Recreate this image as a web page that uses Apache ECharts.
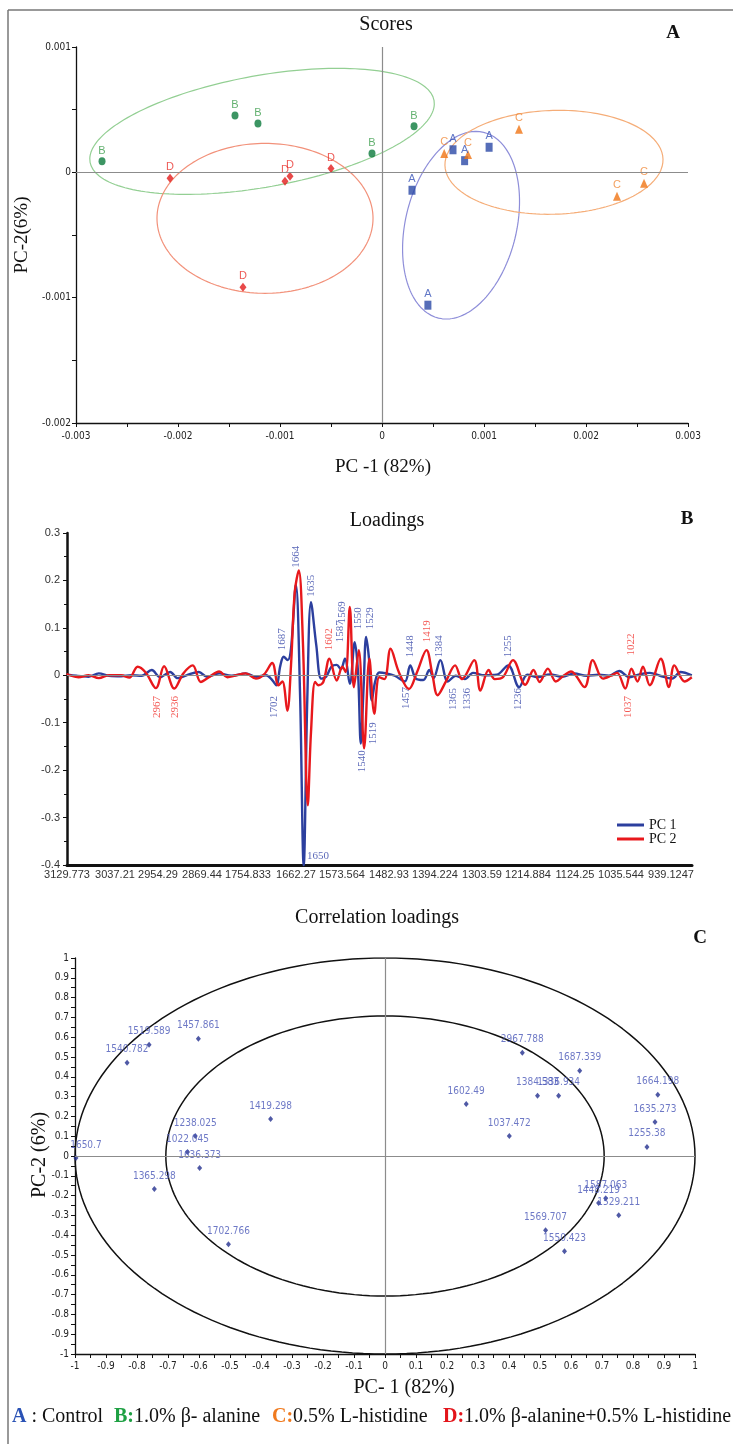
<!DOCTYPE html>
<html><head><meta charset="utf-8">
<script src="https://cdn.jsdelivr.net/npm/echarts/dist/echarts.min.js"></script>
<style>html,body{margin:0;padding:0;background:#fff}#c{width:739px;height:1444px}</style>
</head><body><div id="c"></div>
<script>
// ---------- Panel A: Scores (PC-1 vs PC-2) ----------
const scoresCtrl = [[6.96e-4,1.80e-4],[8.10e-4,0.93e-4],[10.50e-4,2.00e-4],[2.94e-4,-1.43e-4],[4.50e-4,-10.60e-4]];
const scoresAla  = [[-27.45e-4,0.88e-4],[-14.41e-4,4.54e-4],[-12.16e-4,3.90e-4],[-0.98e-4,1.51e-4],[3.14e-4,3.67e-4]];
const scoresHis  = [[6.10e-4,1.51e-4],[8.43e-4,1.43e-4],[13.43e-4,3.43e-4],[23.04e-4,-1.91e-4],[25.69e-4,-0.88e-4]];
const scoresMix  = [[-20.78e-4,-0.48e-4],[-9.51e-4,-0.72e-4],[-9.02e-4,-0.32e-4],[-5.00e-4,0.30e-4],[-13.63e-4,-9.16e-4]];
// ellipses: [cx, cy, ux, uy, vx, vy] (centre, semi-axis vectors, data units)
const ellAla  = [-11.76e-4, 3.27e-4, 16.86e-4, 2.47e-4, 0.98e-4, -4.38e-4];
const ellMix  = [-11.47e-4, -3.67e-4, 10.59e-4, 0, 0, 5.98e-4];
const ellCtrl = [7.75e-4, -4.22e-4, 2.21e-4, 7.41e-4, 5.29e-4, -1.04e-4];
const ellHis  = [16.86e-4, 0.80e-4, 10.69e-4, 0.24e-4, 0.10e-4, -4.14e-4];

// ---------- Panel B: Loadings ----------
const tickLabelsB = ['3129.773','3037.21','2954.29','2869.44','1754.833','1662.27','1573.564','1482.93','1394.224','1303.59','1214.884','1124.25','1035.544','939.1247'];
const tickIdxB = [0,48,91,135,181,229,275,322,368,415,461,508,554,604];
const pc1 = [[0,0.002],[9.3,-0.001],[21.6,-0.003],[31.8,0.004],[42,-0.001],[54.2,-0.002],[64.4,0],[74.6,-0.001],[84.8,0.011],[93,-0.004],[103.2,0.007],[110.6,-0.006],[119.5,0],[131.8,0.007],[140,-0.003],[152.2,0.004],[164.4,-0.001],[178.7,0.004],[189,-0.003],[199.1,0],[205.2,-0.01],[209.3,-0.021],[213.4,0.021],[216.7,0.039],[220.8,0.032],[224,0.056],[228.9,0.191],[233,-0.035],[236.7,-0.401],[240.3,-0.05],[244,0.154],[249.3,0.063],[254.2,-0.007],[259.1,-0.003],[264.4,0.018],[269.7,0.022],[273.8,0.013],[277.9,0.035],[282.8,-0.018],[287.7,0.07],[291,0.007],[293.8,-0.144],[296.7,-0.02],[299.1,0.081],[302,0.035],[304.8,-0.053],[308.1,-0.014],[312.2,0.006],[319.5,0.004],[327.7,-0.001],[337.9,-0.013],[343.2,0.021],[348.9,-0.007],[356.3,-0.01],[362.4,0.011],[366.5,-0.006],[373.4,0.032],[380.8,-0.013],[388.9,-0.001],[397.9,-0.008],[406,0.005],[417.5,0],[429.7,0.001],[441.2,0.021],[452.2,-0.025],[460.3,0.001],[470.6,-0.004],[482.8,0.002],[495,-0.003],[507.3,0.004],[519.5,-0.001],[531.8,0.001],[542,-0.001],[552.2,0.009],[562.4,-0.004],[572.6,0.002],[582.8,0.005],[593,-0.001],[605.2,-0.007],[613.4,0.007],[624.8,0]];
const pc2 = [[0,0.004],[1.2,0.001],[11.4,-0.004],[21.6,0],[31.8,-0.006],[42,0],[54.2,0],[62.4,-0.005],[70.6,0.018],[78.7,0.006],[88.9,-0.027],[97.1,0.019],[107.3,-0.028],[116.3,0.004],[125.7,0.021],[133.8,-0.014],[142,-0.004],[152.2,0.008],[160.3,-0.004],[169.3,0],[178.7,0.004],[188.9,-0.007],[197.1,0.002],[205.2,0.026],[211.4,-0.021],[215.4,-0.013],[220.3,-0.075],[224,0.021],[227.7,0.175],[231.8,0.221],[235.9,0.07],[240.8,-0.274],[244,-0.12],[248.1,-0.014],[251.4,-0.021],[256.3,-0.014],[262.4,0.035],[269.7,-0.011],[275.4,0.018],[278.7,0.007],[282.8,0.144],[286.9,-0.025],[291.8,0.053],[297.1,-0.154],[302.4,0.035],[307.3,-0.081],[312.2,-0.004],[317.5,-0.008],[323.6,0.056],[331.8,0.007],[342,-0.029],[350.1,0.007],[359.5,0.053],[365.2,0.004],[370.6,-0.042],[378.7,-0.014],[388.1,0.021],[395,-0.008],[407.3,0.032],[413.4,-0.032],[421.6,0.011],[427.7,-0.008],[435.9,-0.004],[446,0.032],[458.3,-0.02],[466.5,0.011],[472.6,-0.014],[480.8,0.014],[488.9,-0.013],[497.1,0],[504,0.008],[517.5,-0.025],[525.7,0.032],[535.9,-0.007],[544,-0.001],[550.1,0.005],[558.3,-0.028],[564.4,0.014],[570.6,-0.013],[575.9,0.018],[582.8,-0.021],[593.8,0.035],[602,-0.025],[607.3,0.021],[617.5,-0.013],[624.8,-0.004]];
// peak annotations: text, series (1 = PC1 blue, 2 = PC2 red), anchor x (index), anchor y (loading)
const peakText = ['1664','1635','1687','1602','1587','1569','1550','1529','1448','1419','1384','1255','1022','2967','2936','1702','1457','1365','1336','1236','1037','1540','1519'];
const peakSer  = [1,1,1,2,1,1,1,1,1,2,1,1,2,2,2,1,1,1,1,1,2,1,1];
const peakX    = [229,244,215,262,273,275,291,303,343,360,372,441,564,90,108,207,339,386,400,451,561,295,306];
const peakY    = [0.25,0.189,0.076,0.076,0.093,0.133,0.12,0.12,0.061,0.093,0.061,0.061,0.065,-0.067,-0.067,-0.067,-0.048,-0.05,-0.05,-0.05,-0.067,-0.181,-0.122];
const minLabel = ['1650', 251, -0.381];

// ---------- Panel C: Correlation loadings ----------
const corrLabels = ['1519.589','1540.782','1457.861','1419.298','1238.025','1022.045','1636.373','1650.7','1365.298','1702.766','2967.788','1687.339','1384.583','1336.934','1602.49','1037.472','1664.198','1635.273','1255.38','1587.063','1448.219','1529.211','1569.707','1550.423'];
const corrX = [-0.761,-0.832,-0.602,-0.369,-0.612,-0.637,-0.598,-0.997,-0.744,-0.505,0.443,0.628,0.492,0.560,0.262,0.401,0.880,0.871,0.845,0.712,0.689,0.754,0.518,0.579];
const corrY = [0.562,0.471,0.592,0.187,0.101,0.020,-0.061,-0.010,-0.167,-0.446,0.521,0.430,0.304,0.304,0.263,0.101,0.309,0.172,0.046,-0.213,-0.238,-0.299,-0.375,-0.481];
const circleRadii = [1, 0.707];

// ---------- bottom key ----------
const keyLetters = ['A','B:','C:','D:'];
const keyTexts = [' : Control','1.0% β- alanine','0.5% L-histidine','1.0% β-alanine+0.5% L-histidine'];

// ---------- helpers ----------
function ellipsePts(e){const p=[];for(let i=0;i<=180;i++){const t=2*Math.PI*i/180;p.push([e[0]+e[2]*Math.cos(t)+e[4]*Math.sin(t),e[1]+e[3]*Math.cos(t)+e[5]*Math.sin(t)]);}return p;}
function circlePts(r){return ellipsePts([0,0,r,0,0,r]);}
const SERIF = "'Liberation Serif','Times New Roman',serif";
const NARROW = "'Liberation Sans Narrow','Arial Narrow','DejaVu Sans Condensed',sans-serif";
const SANS = "'Liberation Sans',Arial,sans-serif";
const fmtA = v => Math.abs(v)<1e-12 ? '0' : v.toFixed(3);
const fmt1 = v => { const r = Math.round(v*10)/10; return r===0?'0':String(r); };
const zeroLine = xy => ({silent:true,symbol:'none',label:{show:false},lineStyle:{color:'#8c8c8c',width:1.2,type:'solid'},emphasis:{disabled:true},data:xy});

const chart = echarts.init(document.getElementById('c'), null, {renderer:'canvas'});

const ellLine = (e,color)=>({type:'line',xAxisIndex:0,yAxisIndex:0,data:ellipsePts(e),showSymbol:false,silent:true,
  lineStyle:{color,width:1.2},itemStyle:{color},z:1,animation:false});
const scoreSeries = (data,symbol,size,color,labColor,letter)=>({type:'scatter',xAxisIndex:0,yAxisIndex:0,data,symbol,symbolSize:size,
  itemStyle:{color},z:3,label:{show:true,position:'top',distance:1,formatter:letter,color:labColor,fontSize:11,fontFamily:SANS}});

const series = [
  Object.assign(ellLine(ellAla,'#93cf93'),{markLine:zeroLine([{xAxis:0},{yAxis:0}])}),
  ellLine(ellMix,'#f2917a'),
  ellLine(ellCtrl,'#8e8ed9'),
  ellLine(ellHis,'#f5ad78'),
  scoreSeries(scoresAla,'circle',[7,8],'#0b7a3c','#3c9d4c','B'),
  scoreSeries(scoresMix,'diamond',[7,9],'#e21b1b','#e8302a','D'),
  scoreSeries(scoresCtrl,'rect',[7,9],'#2b49a6','#3a55b8','A'),
  scoreSeries(scoresHis,'triangle',[8,9],'#f07414','#f08a3a','C'),
  {name:'PC 1',type:'line',xAxisIndex:1,yAxisIndex:1,data:pc1,smooth:0.35,showSymbol:false,
    lineStyle:{color:'#2c3f9e',width:2.4},itemStyle:{color:'#2c3f9e'},markLine:zeroLine([{yAxis:0}]),z:3},
  {name:'PC 2',type:'line',xAxisIndex:1,yAxisIndex:1,data:pc2,smooth:0.35,showSymbol:false,
    lineStyle:{color:'#e8181c',width:2.4},itemStyle:{color:'#e8181c'},z:4},
  {type:'scatter',xAxisIndex:1,yAxisIndex:1,symbolSize:0,silent:true,z:6,
    data:peakText.map((t,i)=>({name:t,value:[peakX[i],peakY[i]],label:{color:peakSer[i]===1?'#3445a8':'#f0302a'}}))
      .concat([{name:minLabel[0],value:[minLabel[1],minLabel[2]],label:{rotate:0,color:'#3445a8'}}]),
    label:{show:true,position:'inside',rotate:90,formatter:p=>p.name,fontFamily:SERIF,fontSize:11,align:'center',verticalAlign:'middle'}},
  ...circleRadii.map((r,i)=>({type:'line',xAxisIndex:2,yAxisIndex:2,data:circlePts(r),showSymbol:false,silent:true,
    lineStyle:{color:'#111',width:1.5},z:2,markLine:i===0?zeroLine([{xAxis:0},{yAxis:0}]):undefined})),
  {type:'scatter',xAxisIndex:2,yAxisIndex:2,symbol:'diamond',symbolSize:[5,6],itemStyle:{color:'#23308f'},z:4,
    data:corrLabels.map((t,i)=>({name:t,value:[corrX[i],corrY[i]],label:t==='1650.7'?{offset:[10,0]}:undefined})),
    label:{show:true,position:'top',distance:5,formatter:p=>p.name,color:'#4a58b8',fontSize:10,fontFamily:NARROW}}
];

const axisBase = {splitLine:{show:false},axisLine:{onZero:false,lineStyle:{color:'#111',width:1.3}},
  axisTick:{show:true,length:4,lineStyle:{color:'#111'}},minorTick:{show:true,splitNumber:2,length:4,lineStyle:{color:'#111'}}};

const keyColors = ['#2a52b5','#1ea043','#f07a1e','#e3141a'];
const keyX = [12,114,272,443];
const keyGraphics = keyLetters.map((l,i)=>({type:'text',x:keyX[i],y:1417,style:{
  text:'{k|'+l+'}'+keyTexts[i],font:'20px '+SERIF,fill:'#111',align:'left',verticalAlign:'middle',
  rich:{k:{fill:keyColors[i],font:'bold 20px '+SERIF}}}}));

const option = {
  backgroundColor:'#fff',
  animation:false,
  grid:[
    {left:76,top:47,width:612,height:376},
    {left:67,top:533,width:625,height:332},
    {left:75,top:958,width:620,height:396}
  ],
  xAxis:[
    Object.assign({},axisBase,{gridIndex:0,type:'value',min:-0.003,max:0.003,interval:0.001,
      axisLabel:{formatter:fmtA,fontSize:10,color:'#222',fontFamily:NARROW,margin:8}}),
    {gridIndex:1,type:'value',min:0,max:625,splitLine:{show:false},axisTick:{show:false},
      axisLine:{onZero:false,lineStyle:{color:'#111',width:3}},
      axisLabel:{customValues:tickIdxB,formatter:v=>{const k=tickIdxB.indexOf(Math.round(v));return k<0?'':tickLabelsB[k];},
        fontSize:11,color:'#333',fontFamily:SANS,margin:4}},
    Object.assign({},axisBase,{gridIndex:2,type:'value',min:-1,max:1,interval:0.1,
      axisLabel:{formatter:fmt1,fontSize:10,color:'#222',fontFamily:NARROW,margin:7}})
  ],
  yAxis:[
    Object.assign({},axisBase,{gridIndex:0,type:'value',min:-0.002,max:0.001,interval:0.001,
      axisLabel:{formatter:fmtA,fontSize:10,color:'#222',fontFamily:NARROW,margin:5}}),
    Object.assign({},axisBase,{gridIndex:1,type:'value',min:-0.4,max:0.3,interval:0.1,
      axisLine:{onZero:false,lineStyle:{color:'#111',width:2.5}},minorTick:{show:true,splitNumber:2,length:3,lineStyle:{color:'#111'}},
      axisLabel:{formatter:fmt1,fontSize:11,color:'#333',fontFamily:SANS,margin:7}}),
    Object.assign({},axisBase,{gridIndex:2,type:'value',min:-1,max:1,interval:0.1,
      axisLabel:{formatter:fmt1,fontSize:10,color:'#222',fontFamily:NARROW,margin:6}})
  ],
  legend:{data:['PC 1','PC 2'],left:612,top:813,orient:'vertical',icon:'rect',itemWidth:27,itemHeight:3,itemGap:0,
    textStyle:{fontFamily:SERIF,fontSize:14,color:'#111',lineHeight:13}},
  series,
  graphic:[
    {type:'line',shape:{x1:8,y1:10,x2:733,y2:10},style:{stroke:'#777',lineWidth:1.5},silent:true},
    {type:'line',shape:{x1:8,y1:10,x2:8,y2:1444},style:{stroke:'#777',lineWidth:1.5},silent:true},
    {type:'text',x:386,y:25,style:{text:'Scores',font:'20px '+SERIF,fill:'#111',align:'center',verticalAlign:'middle'}},
    {type:'text',x:673,y:33,style:{text:'A',font:'bold 19px '+SERIF,fill:'#111',align:'center',verticalAlign:'middle'}},
    {type:'text',x:383,y:467,style:{text:'PC -1 (82%)',font:'19px '+SERIF,fill:'#111',align:'center',verticalAlign:'middle'}},
    {type:'text',x:22,y:235,rotation:Math.PI/2,style:{text:'PC-2(6%)',font:'19px '+SERIF,fill:'#111',align:'center',verticalAlign:'middle'}},
    {type:'text',x:387,y:521,style:{text:'Loadings',font:'20px '+SERIF,fill:'#111',align:'center',verticalAlign:'middle'}},
    {type:'text',x:687,y:519,style:{text:'B',font:'bold 19px '+SERIF,fill:'#111',align:'center',verticalAlign:'middle'}},
    {type:'text',x:377,y:918,style:{text:'Correlation loadings',font:'20px '+SERIF,fill:'#111',align:'center',verticalAlign:'middle'}},
    {type:'text',x:700,y:938,style:{text:'C',font:'bold 19px '+SERIF,fill:'#111',align:'center',verticalAlign:'middle'}},
    {type:'text',x:404,y:1388,style:{text:'PC- 1 (82%)',font:'20px '+SERIF,fill:'#111',align:'center',verticalAlign:'middle'}},
    {type:'text',x:40,y:1155,rotation:Math.PI/2,style:{text:'PC-2 (6%)',font:'20px '+SERIF,fill:'#111',align:'center',verticalAlign:'middle'}},
    ...keyGraphics
  ]
};
chart.setOption(option);
</script></body></html>
